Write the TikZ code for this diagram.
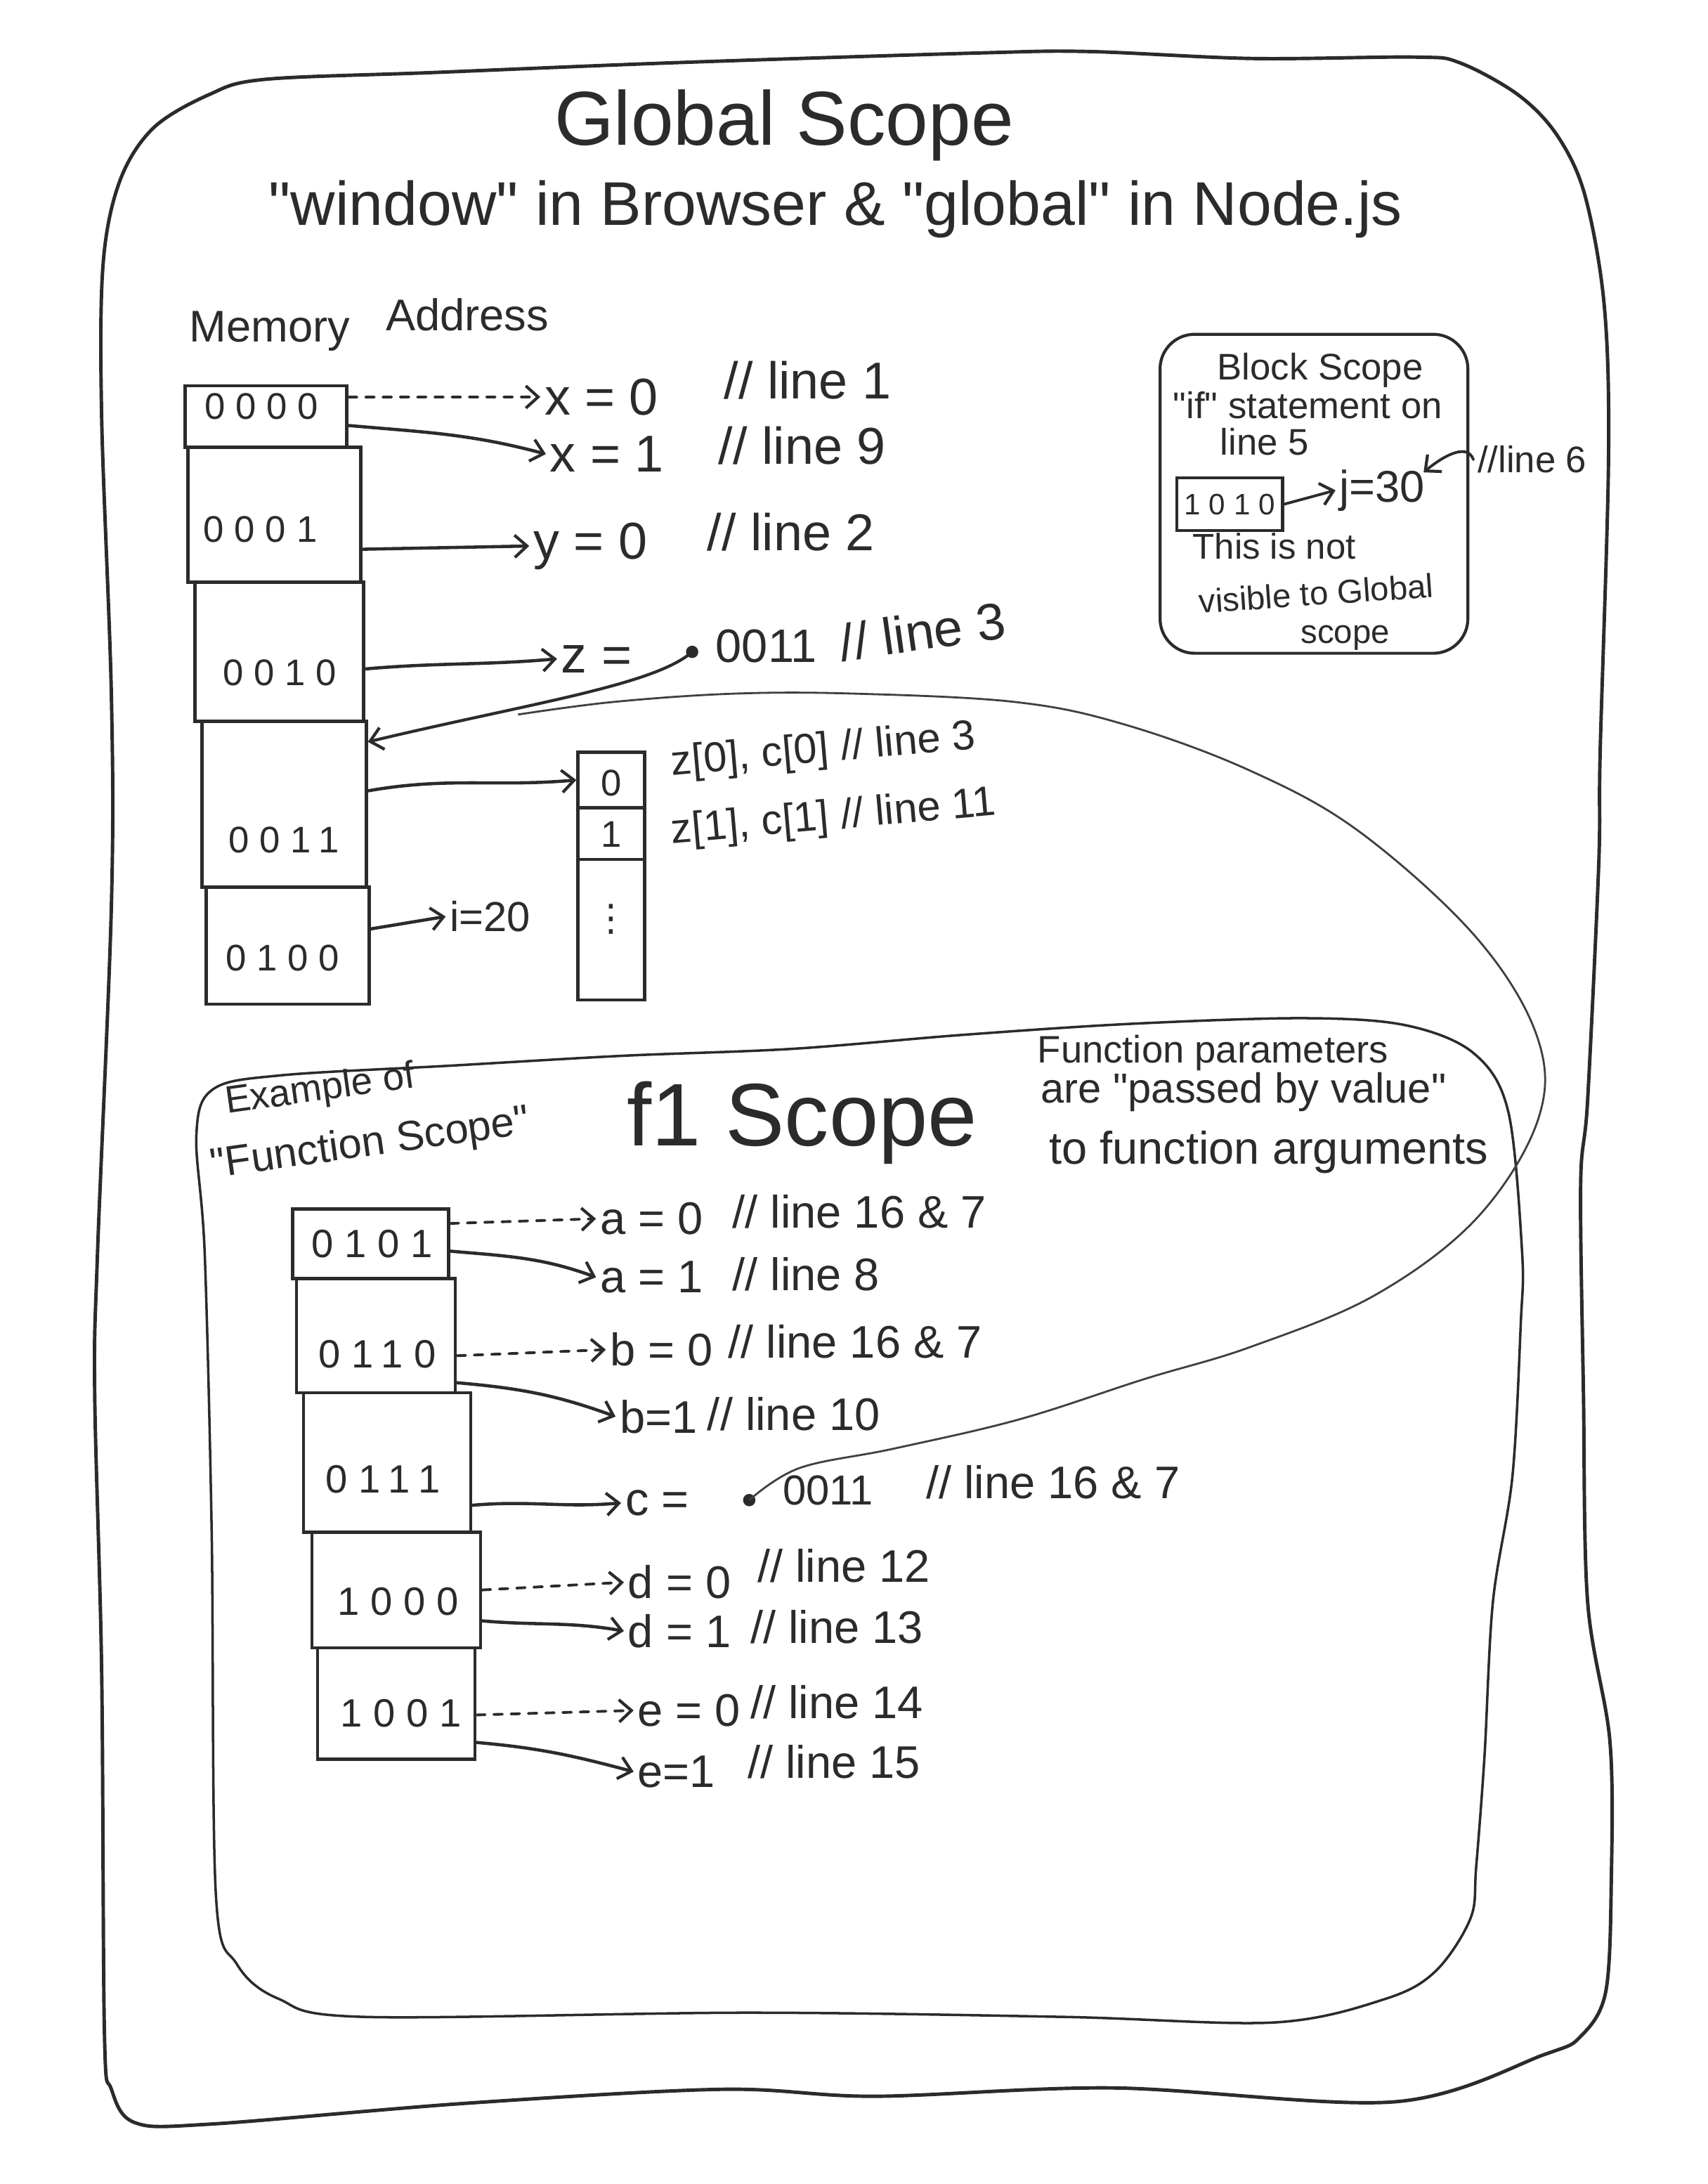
\documentclass[tikz,border=0pt]{standalone}
\usepackage{fontspec}
\setmainfont{Liberation Sans}[Ligatures=TeXOff]
\newfontfamily\cellfont{Liberation Sans}[LetterSpace=28, Ligatures=TeXOff]
\newfontfamily\symfont{DejaVu Sans}
\usetikzlibrary{arrows.meta,calc,fit}
\definecolor{ink}{HTML}{2B2B2B}
\newcommand\setfs[1]{\fontsize{#1}{#1}\selectfont}
\tikzset{
  border/.style={draw=ink, line width=1.4pt, line join=round},
  fbox/.style={draw=ink, line width=1.0pt, line join=round},
  blockbox/.style={draw=ink, line width=1.2pt, rounded corners=14pt, inner sep=0pt},
  cell/.style={draw=ink, line width=1.3pt, inner sep=0pt, rectangle},
  txt/.style={text=ink, inner sep=1.5pt, anchor=west},
  ctxt/.style={text=ink, inner sep=1pt, anchor=center},
  arr/.style={draw=ink, line width=1.3pt, line cap=round, -{Straight Barb[length=5pt,width=9pt,line width=1.2pt]}},
  darr/.style={arr, line width=1.1pt, dash pattern=on 3.5pt off 3.5pt},
  loopline/.style={draw=ink!90, line width=0.8pt},
  ptr/.style={circle, fill=ink, inner sep=0pt, minimum size=5pt},
}
\begin{document}
\begin{tikzpicture}[x=0.01983cm, y=-0.01983cm]
\fill[white] (0,0) rectangle (1226,1568);
\useasboundingbox (0,0) rectangle (1226,1568);

% ---------- Global scope border
\draw[border] plot[smooth cycle, tension=0.55] coordinates {(150,68) (190,57) (313,52) (485,45) (704,38) (782,37) (899,42) (1016,41) (1048,45) (1090,68) (1118,97) (1138,140) (1152,220) (1155,330) (1149,540) (1148,620) (1140,790) (1135,850) (1137,1000) (1140,1150) (1156,1250) (1157,1350) (1153,1430) (1135,1462) (1109,1475) (1001,1509) (799,1499) (628,1505) (518,1500) (335,1510) (151,1525) (97,1524) (80,1500) (75,1460) (73,1200) (68,1000) (70,900) (80,650) (80,500) (73,300) (74,190) (86,130) (110,92)};

\node[ctxt] (title) at (563,90) {\setfs{31}Global Scope};
\node[ctxt] (sub) at (600,150) {\setfs{25}"window" in Browser \& "global" in Node.js};

\node[txt] (mem) at (133,238) {\setfs{18}Memory};
\node[txt] (addr) at (274,226) {\setfs{18}Address};

% ---------- Global memory column
\node[cell, fit={(133,277) (249,321)}] (g0) {};
\node[cell, fit={(135,321) (259,418)}] (g1) {};
\node[cell, fit={(140,418) (261,518)}] (g2) {};
\node[cell, fit={(145,518) (263,637)}] (g3) {};
\node[cell, fit={(148,637) (265,721)}] (g4) {};
\node[ctxt] (g0t) at (188,292) {\cellfont\setfs{15}0000};
\node[ctxt] (g1t) at (187,380) {\cellfont\setfs{15}0001};
\node[ctxt] (g2t) at (201,483) {\cellfont\setfs{15}0010};
\node[ctxt] (g3t) at (204,603) {\cellfont\setfs{15}0011};
\node[ctxt] (g4t) at (203,688) {\cellfont\setfs{15}0100};

% global values
\node[txt] (x0) at (388,285) {\setfs{21}x = 0};
\node[txt] (c0) at (517,273) {\setfs{21}// line 1};
\node[txt] (x1) at (392,326) {\setfs{21}x = 1};
\node[txt] (c1) at (513,320) {\setfs{21}// line 9};
\node[txt] (y0) at (380,392) {\setfs{21}y = 0};
\node[txt] (c2) at (505,382) {\setfs{21}// line 2};
\node[txt] (z0) at (400,473) {\setfs{21}z =};
\node[ptr] (zdot) at (497,468) {};
\node[txt] (z1) at (511,464) {\setfs{19}0011};
\node[txt, rotate=8] (c3) at (600,462) {\setfs{21}// line 3};
\node[txt] (i0) at (320,658) {\setfs{17}i=20};

% array
\node[cell, fit={(415,540) (463,580)}] (a0) {};
\node[cell, fit={(415,580) (463,617)}] (a1) {};
\node[cell, fit={(415,617) (463,718)}] (a2) {};
\node[ctxt] (a0t) at (439,562) {\setfs{15}0};
\node[ctxt] (a1t) at (439,599) {\setfs{15}1};
\node[ctxt] (a2t) at (439,660) {\symfont\setfs{15}⋮};
\node[txt, rotate=5] (ar0) at (479,549) {\setfs{17}z[0], c[0] // line 3};
\node[txt, rotate=5] (ar1) at (479,598) {\setfs{17}z[1], c[1] // line 11};

% global arrows
\draw[darr] ($(g0.north east)!0.2!(g0.south east)$) -- (x0.west);
\draw[arr] ($(g0.north east)!0.64!(g0.south east)$) to[out=-5, in=165] (x1.west);
\draw[arr] ($(g1.north east)!0.75!(g1.south east)$) -- (y0.west);
\draw[arr] ($(g2.north east)!0.62!(g2.south east)$) to[out=5, in=185] (z0.west);
\draw[arr] ($(g3.north east)!0.42!(g3.south east)$) to[out=10, in=185] (a0.west);
\draw[arr] ($(g4.north east)!0.36!(g4.south east)$) -- (i0.west);
\draw[arr, line width=1.2pt] (zdot.center) .. controls (470,492) and (380,505) .. ($(g3.north east)!0.13!(g3.south east)$);

% ---------- Block scope
\node[blockbox, fit={(833,240) (1054,469)}] (blk) {};
\node[ctxt] (bs1) at (948,266) {\setfs{15}Block Scope};
\node[ctxt] (bs2) at (939,291) {\setfs{15}"if" statement on};
\node[ctxt] (bs3) at (908,317) {\setfs{15}line 5};
\node[cell, line width=1.2pt, fit={(845,343) (921,381)}] (b1010) {};
\node[ctxt] (b1010t) at (883,362) {\cellfont\setfs{12}1010};
\node[txt] (j30) at (959,352) {\setfs{18}j=30};
\node[txt] (l6) at (1058,330) {\setfs{15}//line 6};
\node[ctxt, inner sep=0pt] (bs4) at (915,392) {\setfs{14.5}This is not};
\node[ctxt, rotate=4, inner sep=0pt] (bs5) at (945,426) {\setfs{13.5}visible to Global};
\node[ctxt, inner sep=0pt] (bs6) at (966,458) {\setfs{13.5}scope};
\draw[arr, line width=1.1pt] (b1010.east) -- (j30.west);
\draw[arr, line width=1.1pt] (l6.west) to[out=110, in=40] ($(j30.north east)+(-4,5)$);

% ---------- Function scope
\draw[fbox] plot[smooth cycle, tension=0.55] coordinates {(153,782) (202,772) (325,765) (447,758) (569,753) (691,743) (813,735) (936,731) (1009,736) (1058,756) (1083,798) (1093,900) (1092,950) (1086,1060) (1072,1150) (1066,1260) (1060,1340) (1056,1377) (1031,1415) (995,1435) (915,1452) (763,1448) (536,1445) (261,1448) (200,1435) (170,1410) (155,1360) (152,1100) (147,900) (141,815)};

\node[ctxt, rotate=8, inner sep=0pt] (ex1) at (230,783) {\setfs{15.5}Example of};
\node[ctxt, rotate=8, inner sep=0pt] (ex2) at (266,822) {\setfs{17}"Function Scope"};
\node[ctxt] (f1s) at (576,806) {\setfs{36}f1 Scope};
\node[ctxt] (fp1) at (871,756) {\setfs{15.5}Function parameters};
\node[ctxt] (fp2) at (893,784) {\setfs{17}are "passed by value"};
\node[ctxt] (fp3) at (911,827) {\setfs{18.5}to function arguments};

\node[cell, fit={(210,868) (322,918)}] (f0) {};
\node[cell, fit={(213,918) (327,1000)}] (f1) {};
\node[cell, fit={(218,1000) (338,1100)}] (f2) {};
\node[cell, fit={(224,1100) (345,1183)}] (f3) {};
\node[cell, fit={(228,1183) (341,1263)}] (f4) {};
\node[ctxt] (f0t) at (267,893) {\cellfont\setfs{16}0101};
\node[ctxt] (f1t) at (271,972) {\cellfont\setfs{16}0110};
\node[ctxt] (f2t) at (275,1062) {\cellfont\setfs{16}0111};
\node[ctxt] (f3t) at (286,1150) {\cellfont\setfs{16}1000};
\node[ctxt] (f4t) at (288,1230) {\cellfont\setfs{16}1001};

\node[txt] (av0) at (428,875) {\setfs{18.5}a = 0};
\node[txt] (ac0) at (523,870) {\setfs{18.5}// line 16 \& 7};
\node[txt] (av1) at (428,917) {\setfs{18.5}a = 1};
\node[txt] (ac1) at (523,915) {\setfs{18.5}// line 8};
\node[txt] (bv0) at (435,969) {\setfs{18.5}b = 0};
\node[txt] (bc0) at (520,963) {\setfs{18.5}// line 16 \& 7};
\node[txt] (bv1) at (442,1017) {\setfs{18.5}b=1};
\node[txt] (bc1) at (505,1015) {\setfs{18.5}// line 10};
\node[txt] (cv) at (446,1079) {\setfs{19}c =};
\node[ptr] (cdot) at (538,1077) {};
\node[txt] (cz) at (559,1070) {\setfs{17}0011};
\node[txt] (cc) at (662,1064) {\setfs{18.5}// line 16 \& 7};
\node[txt] (dv0) at (448,1136) {\setfs{18.5}d = 0};
\node[txt] (dc0) at (541,1124) {\setfs{18.5}// line 12};
\node[txt] (dv1) at (448,1171) {\setfs{18.5}d = 1};
\node[txt] (dc1) at (536,1168) {\setfs{18.5}// line 13};
\node[txt] (ev0) at (455,1228) {\setfs{18.5}e = 0};
\node[txt] (ec0) at (536,1222) {\setfs{18.5}// line 14};
\node[txt] (ev1) at (455,1272) {\setfs{18.5}e=1};
\node[txt] (ec1) at (534,1265) {\setfs{18.5}// line 15};

\draw[darr] ($(f0.north east)!0.22!(f0.south east)$) -- (av0.west);
\draw[arr] ($(f0.north east)!0.6!(f0.south east)$) to[out=-5, in=160] (av1.west);
\draw[darr] ($(f1.north east)!0.67!(f1.south east)$) -- (bv0.west);
\draw[arr] ($(f1.north east)!0.9!(f1.south east)$) to[out=-5, in=160] (bv1.west);
\draw[arr] ($(f2.north east)!0.8!(f2.south east)$) to[out=5, in=185] (cv.west);
\draw[darr] ($(f3.north east)!0.5!(f3.south east)$) -- (dv0.west);
\draw[arr] ($(f3.north east)!0.76!(f3.south east)$) to[out=-5, in=170] (dv1.west);
\draw[darr] ($(f4.north east)!0.6!(f4.south east)$) -- (ev0.west);
\draw[arr] ($(f4.north east)!0.84!(f4.south east)$) to[out=-5, in=165] (ev1.west);

% ---------- c pointer loop back to 0011
\coordinate (join) at (372,513);
\draw[loopline] plot[smooth, tension=0.6] coordinates {(cdot) (574,1054) (642,1040) (732,1019) (822,990) (898,967) (987,930) (1060,875) (1104,805) (1104,745) (1060,673) (976,597) (897,553) (807,520) (729,504) (614,498) (527,498) (440,504) (join)};
\end{tikzpicture}
\end{document}
